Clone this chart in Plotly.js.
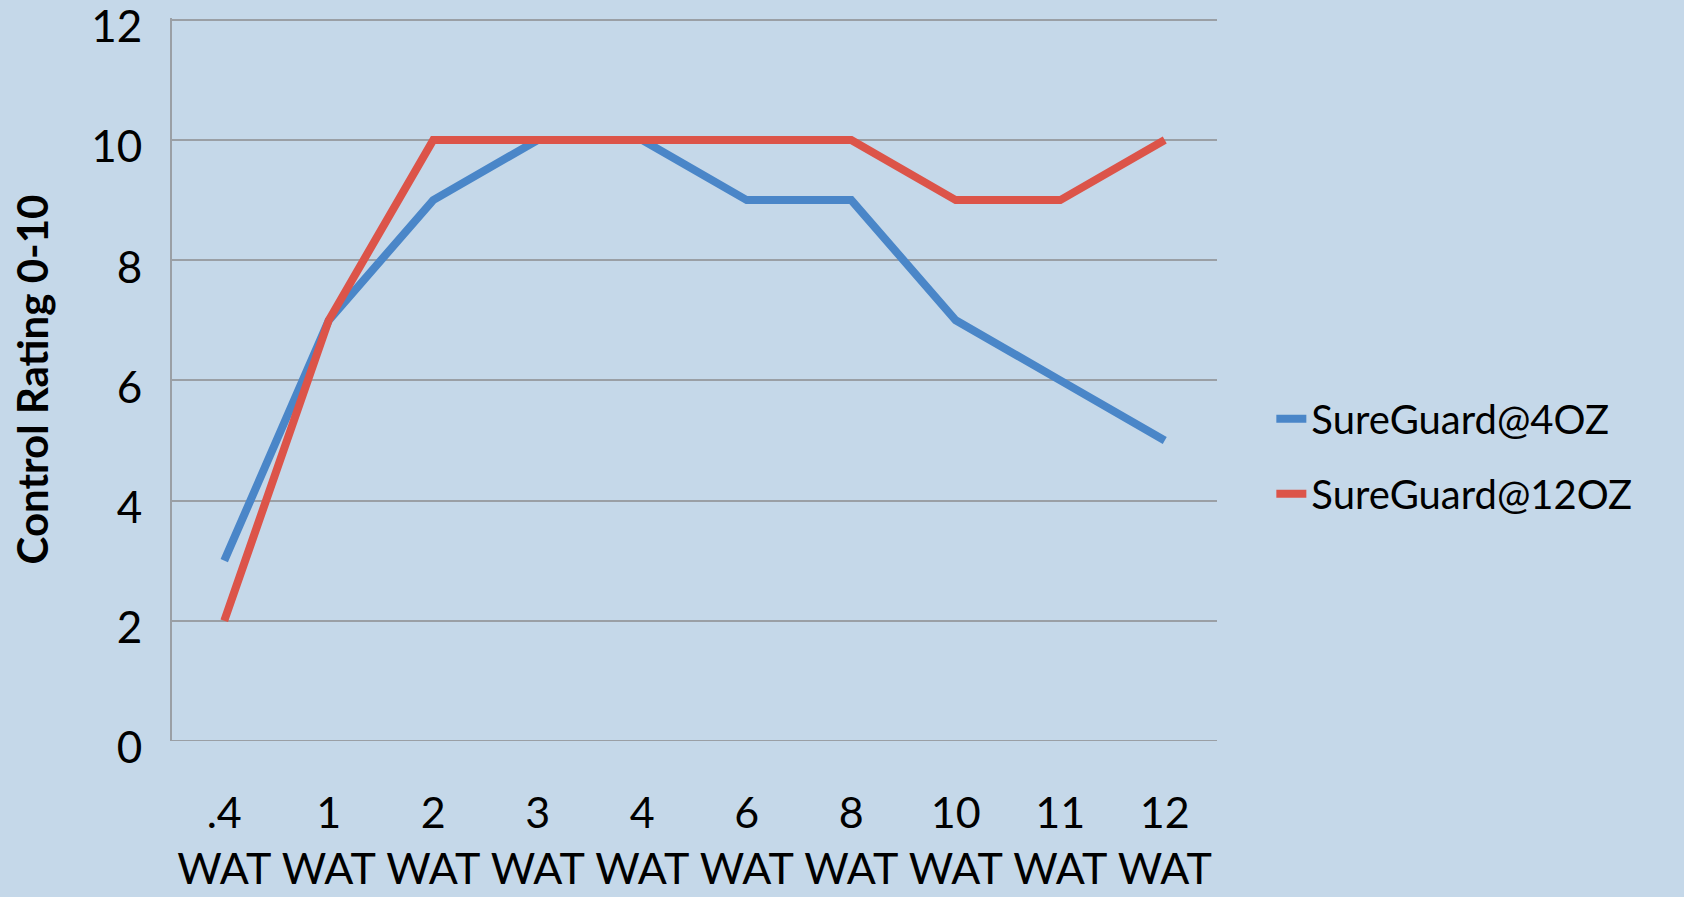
<!DOCTYPE html>
<html>
<head>
<meta charset="utf-8">
<script src="https://cdn.plot.ly/plotly-3.0.1.min.js"></script>
<style>html,body{margin:0;padding:0;background:#c5d8e9;}</style>
</head>
<body>
<div id="chart" style="width:1684px;height:897px;"></div>
<script>
const categories = [".4<br>WAT", "1<br>WAT", "2<br>WAT", "3<br>WAT", "4<br>WAT", "6<br>WAT", "8<br>WAT", "10<br>WAT", "11<br>WAT", "12<br>WAT"];
const sureGuard4oz = [3, 7, 9, 10, 10, 9, 9, 7, 6, 5];
const sureGuard12oz = [2, 7, 10, 10, 10, 10, 10, 9, 9, 10];
const seriesNames = ["SureGuard@4OZ", "SureGuard@12OZ"];
const yTicks = [0, 2, 4, 6, 8, 10, 12];

const font = "Lato, 'Open Sans', sans-serif";
const traces = [
  {x: categories, y: sureGuard4oz, name: seriesNames[0], legendgroup: "a", type: "scatter", mode: "lines",
   line: {color: "#4a86c8", width: 8}},
  {x: categories, y: sureGuard12oz, name: seriesNames[1], legendgroup: "b", type: "scatter", mode: "lines",
   line: {color: "#dc5449", width: 8}}
];
const layout = {
  width: 1684, height: 897,
  paper_bgcolor: "#c5d8e9", plot_bgcolor: "#c5d8e9",
  margin: {l: 172, r: 467, t: 18, b: 156},
  font: {family: font, color: "#000", size: 44},
  showlegend: true,
  legend: {x: 1.052, xanchor: "left", y: 0.394, yanchor: "middle", font: {size: 40, family: font},
           bgcolor: "rgba(0,0,0,0)", tracegroupgap: 20, traceorder: "grouped", itemwidth: 30},
  xaxis: {type: "category", categoryorder: "array", categoryarray: categories,
          range: [-0.5, 9.5], showgrid: false, zeroline: false, showline: false,
          ticks: "", tickfont: {size: 43, family: font}, ticklabelstandoff: 43, fixedrange: true},
  yaxis: {range: [0, 12.03], tickvals: yTicks, ticktext: yTicks.map(String),
          showgrid: true, gridcolor: "#9a9fa5", gridwidth: 2,
          zeroline: false, showline: true, linecolor: "#9a9fa5", linewidth: 2,
          ticks: "", tickfont: {size: 44, family: font}, ticklabelstandoff: 19,
          ticklabelshift: 7, ticklabeloverflow: "allow",
          title: {text: "<b>Control Rating 0-10</b>", font: {size: 42, family: font}, standoff: 29},
          fixedrange: true},
  shapes: [{type: "line", xref: "paper", yref: "y", x0: 0, x1: 1, y0: 0, y1: 0,
            line: {color: "#9a9fa5", width: 2}}]
};
Plotly.newPlot("chart", traces, layout, {displayModeBar: false, staticPlot: true});
</script>
</body>
</html>
